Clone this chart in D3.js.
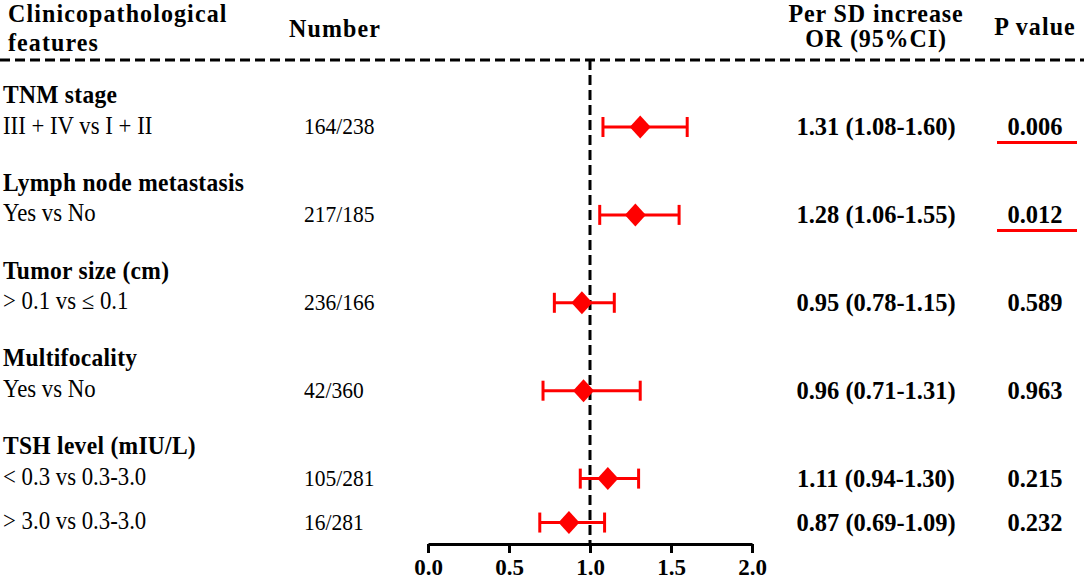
<!DOCTYPE html>
<html>
<head>
<meta charset="utf-8">
<script src="https://cdn.jsdelivr.net/npm/d3@7"></script>
<style>
  body { margin: 0; background: #fff; }
  svg text { font-family: "Liberation Serif", "Times New Roman", serif; fill: #000; }
</style>
</head>
<body>
<svg id="forestSVG" width="1084" height="580"></svg>
<script>
// chart values
var groupNames = ["TNM stage", "Lymph node metastasis", "Tumor size (cm)", "Multifocality", "TSH level (mIU/L)"];
var rowGroup   = [0, 1, 2, 3, 4, 4];
var rowLabels  = ["III + IV vs I + II", "Yes vs No", "> 0.1 vs \u2264 0.1", "Yes vs No", "< 0.3 vs 0.3-3.0", "> 3.0 vs 0.3-3.0"];
var rowNumbers = ["164/238", "217/185", "236/166", "42/360", "105/281", "16/281"];
var orValues   = [1.31, 1.28, 0.95, 0.96, 1.11, 0.87];
var ciLower    = [1.08, 1.06, 0.78, 0.71, 0.94, 0.69];
var ciUpper    = [1.60, 1.55, 1.15, 1.31, 1.30, 1.09];
var pValues    = ["0.006", "0.012", "0.589", "0.963", "0.215", "0.232"];
var significant = [true, true, false, false, false, false];
var axisTicks  = [0, 0.5, 1.0, 1.5, 2.0];

var svg = d3.select("#forestSVG");
var red = "#ff0000";

var x = d3.scaleLinear().domain([0, 2]).range([428, 752]);
// slot -> vertical position
var y = d3.scaleLinear().domain([1, 2]).range([127, 156.3]);
var axisY = 544;

// work out which slot each line sits in
var rows = [];
var groupSlots = [];
var seen = {};
rowGroup.forEach(function (g, i) {
  if (!(g in seen)) { seen[g] = 0; groupSlots[g] = 3 * g; }
  var slot = 3 * g + 1 + 1.5 * seen[g];
  seen[g] += 1;
  rows.push({
    label: rowLabels[i], number: rowNumbers[i], or: orValues[i],
    lo: ciLower[i], hi: ciUpper[i], p: pValues[i], sig: significant[i], slot: slot
  });
});

var addText = function (tx, ty, str, size, weight, anchor, spacing) {
  return svg.append("text")
    .attr("transform", "translate(" + tx + "," + ty + ") scale(1,1.06)")
    .attr("text-anchor", anchor || "start")
    .style("font-size", size + "px")
    .style("font-weight", weight || "normal")
    .style("letter-spacing", (spacing || 0) + "px")
    .text(str);
};

// headers
addText(8, 22, "Clinicopathological", 24, "bold", "start", 1.1);
addText(8, 51, "features", 24, "bold", "start", 1.1);
addText(335, 37, "Number", 24, "bold", "middle", 1.1);
addText(876, 22, "Per SD increase", 24, "bold", "middle", 0.9);
addText(876, 47, "OR (95%CI)", 24, "bold", "middle", 0.9);
addText(1035, 35, "P value", 24, "bold", "middle", 1.1);

svg.append("line")
  .attr("x1", 0).attr("x2", 1084)
  .attr("y1", 60).attr("y2", 60)
  .style("stroke", "#000")
  .style("stroke-width", 2.8)
  .style("stroke-dasharray", "10,5");

svg.append("line")
  .attr("x1", x(1)).attr("x2", x(1))
  .attr("y1", 60).attr("y2", axisY)
  .style("stroke", "#000")
  .style("stroke-width", 3)
  .style("stroke-dasharray", "10,5");

// group titles
groupNames.forEach(function (name, g) {
  addText(3, y(groupSlots[g]) + 5, name, 23.5, "bold", "start", 0.3);
});

// row texts
rows.forEach(function (d) {
  var cy = y(d.slot);
  addText(3, cy + 6.5, d.label, 22.8, "normal");
  addText(304, cy + 7, d.number, 21.5, "normal");
  addText(876, cy + 8, d.or.toFixed(2) + " (" + d.lo.toFixed(2) + "-" + d.hi.toFixed(2) + ")", 24.5, "bold", "middle");
  addText(1035, cy + 8, d.p, 24.5, "bold", "middle");
  if (d.sig) {
    svg.append("line")
      .attr("x1", 997).attr("x2", 1077)
      .attr("y1", cy + 15.5).attr("y2", cy + 15.5)
      .style("stroke", red)
      .style("stroke-width", 3);
  }
});

// error bars and diamonds
var bars = svg.append("g").selectAll("g")
  .data(rows)
  .enter().append("g");

bars.append("line")
  .attr("x1", function (d) { return x(d.lo); })
  .attr("x2", function (d) { return x(d.hi); })
  .attr("y1", function (d) { return y(d.slot); })
  .attr("y2", function (d) { return y(d.slot); })
  .style("stroke", red).style("stroke-width", 3);

["lo", "hi"].forEach(function (k) {
  bars.append("line")
    .attr("x1", function (d) { return x(d[k]); })
    .attr("x2", function (d) { return x(d[k]); })
    .attr("y1", function (d) { return y(d.slot) - 10; })
    .attr("y2", function (d) { return y(d.slot) + 10; })
    .style("stroke", red).style("stroke-width", 3);
});

bars.append("polygon")
  .attr("points", function (d) {
    var cx = x(d.or), cy = y(d.slot);
    return [[cx - 10.5, cy], [cx, cy - 11.5], [cx + 10.5, cy], [cx, cy + 11.5]].join(" ");
  })
  .style("fill", red);

// x axis
var axis = svg.append("g")
  .attr("transform", "translate(0," + axisY + ")")
  .call(d3.axisBottom(x).tickValues(axisTicks).tickSize(9).tickSizeOuter(0).tickFormat(d3.format(".1f")));

axis.select(".domain").style("stroke", "#000").style("stroke-width", 3);
axis.selectAll(".tick line").style("stroke", "#000").style("stroke-width", 3);
axis.selectAll(".tick text")
  .attr("y", 31).attr("dy", null)
  .style("font-family", "\"Liberation Serif\", \"Times New Roman\", serif")
  .style("font-size", "23px")
  .style("font-weight", "bold")
  .style("fill", "#000");
</script>
</body>
</html>
